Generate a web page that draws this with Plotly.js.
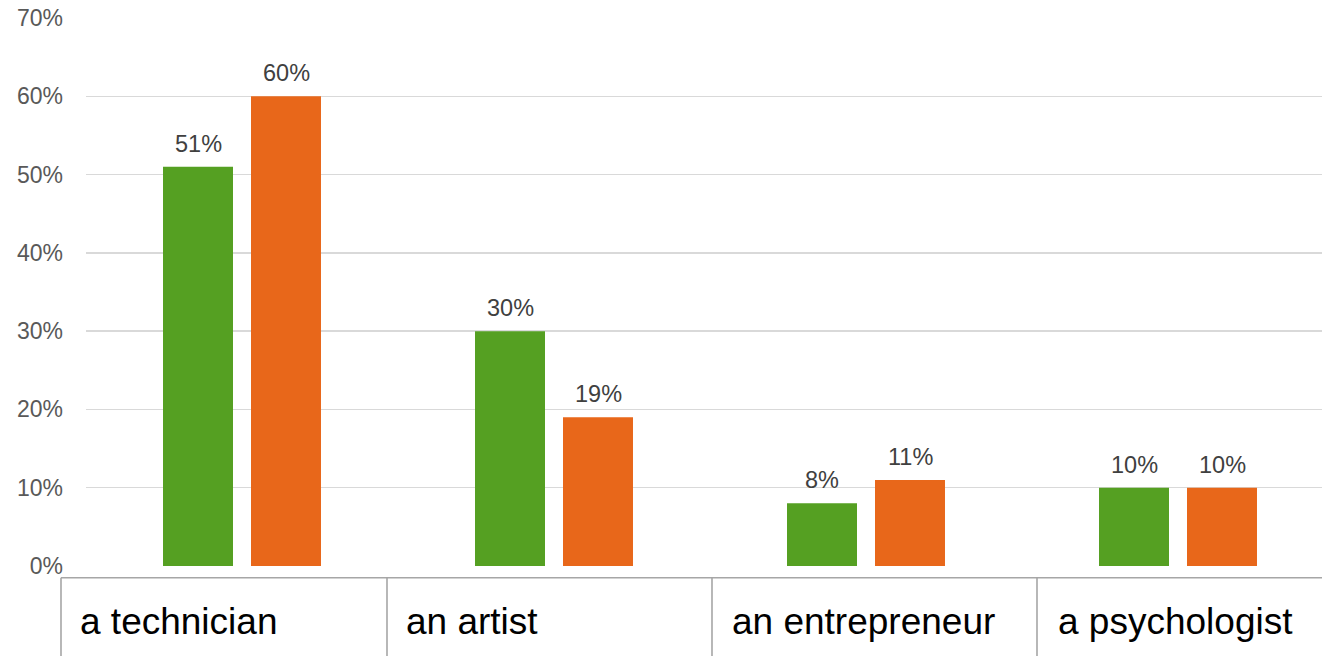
<!DOCTYPE html>
<html>
<head>
<meta charset="utf-8">
<script src="https://cdn.plot.ly/plotly-3.0.1.min.js"></script>
<style>html,body{margin:0;padding:0;background:#fff;}#chart{width:1322px;height:656px;}</style>
</head>
<body>
<div id="chart"></div>
<script>
const categories = ["a technician", "an artist", "an entrepreneur", "a psychologist"];
const seriesGreen = [51, 30, 8, 10];
const seriesOrange = [60, 19, 11, 10];
const yTicks = [0, 10, 20, 30, 40, 50, 60, 70];

const W = 1322, H = 656, L = 86, R = 0, T = 18, B = 90;
const plotW = W - L - R, plotH = H - T - B;
const px = x => (x - L) / plotW;
const py = y => (H - B - y) / plotH;

const FONT = "Liberation Sans, Arial, Helvetica, sans-serif";
const GREEN = "#55a022", ORANGE = "#e8671a";

const traces = [
  {type: "bar", x: categories, y: seriesGreen, marker: {color: GREEN}, hoverinfo: "skip"},
  {type: "bar", x: categories, y: seriesOrange, marker: {color: ORANGE}, hoverinfo: "skip"}
];

const annotations = [];
[[seriesGreen, -44], [seriesOrange, 44]].forEach(([vals, shift]) => {
  vals.forEach((v, i) => {
    annotations.push({
      x: categories[i], y: v, xref: "x", yref: "y", xshift: shift, yshift: 9,
      yanchor: "bottom", xanchor: "center", showarrow: false, borderpad: 0,
      text: v + "%", font: {family: FONT, size: 23.5, color: "#404040"}
    });
  });
});

const tableX = [61, 387, 712, 1037];
const labelX = [79, 405, 731, 1057];
const tableTop = 577.7;
const shapes = [{
  type: "line", xref: "paper", yref: "paper",
  x0: px(61), x1: px(1330), y0: py(tableTop), y1: py(tableTop),
  line: {color: "#a6a6a6", width: 1.6}
}];
tableX.forEach(x => shapes.push({
  type: "line", xref: "paper", yref: "paper",
  x0: px(x), x1: px(x), y0: py(tableTop), y1: py(H + 10),
  line: {color: "#a6a6a6", width: 1.6}
}));
categories.forEach((c, i) => annotations.push({
  x: px(labelX[i]), y: py(621), xref: "paper", yref: "paper",
  xanchor: "left", yanchor: "middle", showarrow: false, borderpad: 0,
  text: c, font: {family: FONT, size: 37, color: "#000000"}
}));

const layout = {
  width: W, height: H,
  margin: {l: L, r: R, t: T, b: B, pad: 0},
  paper_bgcolor: "#ffffff", plot_bgcolor: "#ffffff",
  showlegend: false,
  barmode: "group", bargap: 0.436, bargroupgap: 0.2045,
  font: {family: FONT},
  xaxis: {type: "category", range: [-0.5, -0.5 + plotW / 312], showticklabels: false,
          showgrid: false, zeroline: false, showline: false, fixedrange: true},
  yaxis: {range: [0, 70], tickvals: yTicks, ticktext: yTicks.map(v => v + "%"),
          showgrid: true, gridcolor: "#d9d9d9", gridwidth: 1.5,
          zeroline: false, showline: false, ticks: "", ticklabelstandoff: 22,
          tickfont: {family: FONT, size: 23, color: "#595959"}, fixedrange: true},
  shapes: shapes,
  annotations: annotations
};

Plotly.newPlot("chart", traces, layout, {displayModeBar: false, staticPlot: true});
</script>
</body>
</html>
